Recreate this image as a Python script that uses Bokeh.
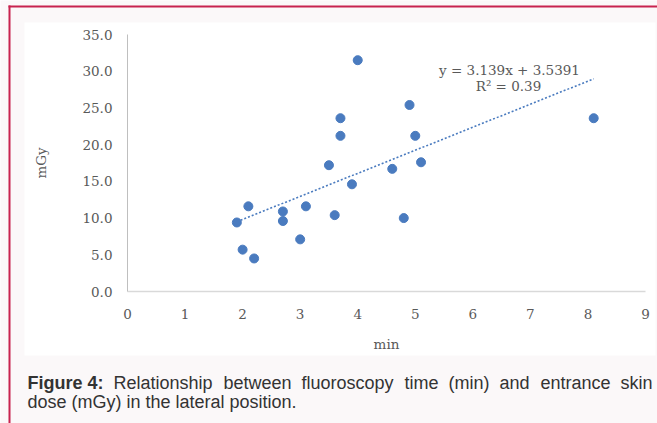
from bokeh.plotting import figure
from bokeh.models import Range1d, FixedTicker, NumeralTickFormatter, BoxAnnotation, Label
from bokeh.embed import file_html
from bokeh.resources import INLINE

# ---- data ----
fluoro_min = [1.9, 2.0, 2.1, 2.2, 2.7, 2.7, 3.0, 3.1, 3.5, 3.6,
              3.7, 3.7, 3.9, 4.0, 4.6, 4.8, 4.9, 5.0, 5.1, 8.1]
dose_mgy = [9.4, 5.7, 11.6, 4.5, 10.9, 9.6, 7.1, 11.6, 17.2, 10.4,
            23.6, 21.2, 14.6, 31.5, 16.7, 10.0, 25.4, 21.2, 17.6, 23.6]
x_ticks = [0, 1, 2, 3, 4, 5, 6, 7, 8, 9]
y_ticks = [0, 5, 10, 15, 20, 25, 30, 35]
trend_slope = 3.139
trend_intercept = 3.5391
equation_text = "y = 3.139x + 3.5391"
r2_text = "R² = 0.39"
x_title = "min"
y_title = "mGy"
caption_bold = "Figure 4:"
caption_line1_words = ["Relationship", "between", "fluoroscopy", "time",
                       "(min)", "and", "entrance", "skin"]
caption_line2 = "dose (mGy) in the lateral position."

# ---- layout (window pixels) ----
W, H = 657, 423
X0_PX, X9_PX = 127, 645        # where x = 0 and x = 9 fall
Y0_PX, Y35_PX = 291, 34        # where y = 0 and y = 35 fall
PX_X = (X9_PX - X0_PX) / 9.0
PX_Y = (Y0_PX - Y35_PX) / 35.0


def dx(px):
    return (px - X0_PX) / PX_X


def dy(py):
    return (Y0_PX - py) / PX_Y


PINK = "#fbf8f9"
RED = "#c8234f"
GREY_TXT = "#595959"
BLUE = "#4a7bbf"

p = figure(width=W, height=H, output_backend="svg", toolbar_location=None,
           x_range=Range1d(dx(0), dx(W)), y_range=Range1d(dy(H), dy(0)),
           min_border=0)
p.border_fill_color = PINK
p.background_fill_color = PINK
p.outline_line_color = None
p.xgrid.visible = False
p.ygrid.visible = False

# white chart panel (beneath everything)
p.add_layout(BoxAnnotation(left=dx(24), right=dx(655), top=dy(22), bottom=dy(355),
                           fill_color="white", fill_alpha=1.0, line_color=None,
                           level="underlay"))
# red page border
p.add_layout(BoxAnnotation(left=dx(8), right=dx(W), top=dy(5), bottom=dy(7),
                           fill_color=RED, fill_alpha=1.0, line_color=None))
p.add_layout(BoxAnnotation(left=dx(8), right=dx(10), top=dy(5), bottom=dy(H),
                           fill_color=RED, fill_alpha=1.0, line_color=None))

# axes, pinned at the data origin
p.xaxis.fixed_location = 0
p.yaxis.fixed_location = 0
p.xaxis.bounds = (x_ticks[0], x_ticks[-1])
p.yaxis.bounds = (y_ticks[0], y_ticks[-1])
p.xaxis.ticker = FixedTicker(ticks=x_ticks)
p.yaxis.ticker = FixedTicker(ticks=y_ticks)
p.yaxis.formatter = NumeralTickFormatter(format="0.0")
for ax in (p.xaxis[0], p.yaxis[0]):
    ax.major_tick_line_color = None
    ax.minor_tick_line_color = None
    ax.major_tick_out = 0
    ax.major_tick_in = 0
    ax.major_label_text_font = "DejaVu Serif"
    ax.major_label_text_font_size = "13.5px"
    ax.major_label_text_color = GREY_TXT
    ax.axis_label_text_font = "DejaVu Serif"
    ax.axis_label_text_font_size = "13.5px"
    ax.axis_label_text_color = GREY_TXT
    ax.axis_label_text_font_style = "normal"
p.xaxis.axis_label = x_title
p.yaxis.axis_label = y_title
p.xaxis.axis_line_color = "#d9d9d9"
p.xaxis.axis_line_width = 1.5
p.yaxis.axis_line_color = "#bfbfbf"
p.yaxis.axis_line_width = 1
p.xaxis.major_label_standoff = 17
p.yaxis.major_label_standoff = 15
p.xaxis.axis_label_standoff = 14
p.yaxis.axis_label_standoff = 30

# trendline
tx = [min(fluoro_min), max(fluoro_min)]
ty = [trend_slope * v + trend_intercept for v in tx]
p.line(tx, ty, line_color=BLUE, line_width=1.6, line_dash="2 2")

# points
p.scatter(fluoro_min, dose_mgy, marker="circle", size=9,
          fill_color=BLUE, line_color=BLUE)

# equation labels
p.add_layout(Label(x=dx(509), y=dy(69), text=equation_text, text_align="center",
                   text_baseline="middle", text_font="DejaVu Serif",
                   text_font_size="13.5px", text_color=GREY_TXT))
p.add_layout(Label(x=dx(508), y=dy(85), text=r2_text, text_align="center",
                   text_baseline="middle", text_font="DejaVu Serif",
                   text_font_size="13.5px", text_color=GREY_TXT))

# caption
cap_font = "Liberation Sans"
cap_size = "18px"
cap_color = "#333333"
line1_base = 382
line2_base = 401


def clabel(x, y, text, align="left", style="normal"):
    p.add_layout(Label(x=dx(x), y=dy(y), text=text,
                       text_font=cap_font, text_font_size=cap_size,
                       text_font_style=style, text_color=cap_color,
                       text_baseline="alphabetic", text_align=align))


clabel(27, line1_base, caption_bold, style="bold")
word_x = [113, 223, 301, 404, 448, 499, 540]
for wx, wtext in zip(word_x, caption_line1_words[:-1]):
    clabel(wx, line1_base, wtext)
clabel(652, line1_base, caption_line1_words[-1], align="right")
clabel(27, line2_base, caption_line2)

open("out.html", "w").write(file_html(p, INLINE))
